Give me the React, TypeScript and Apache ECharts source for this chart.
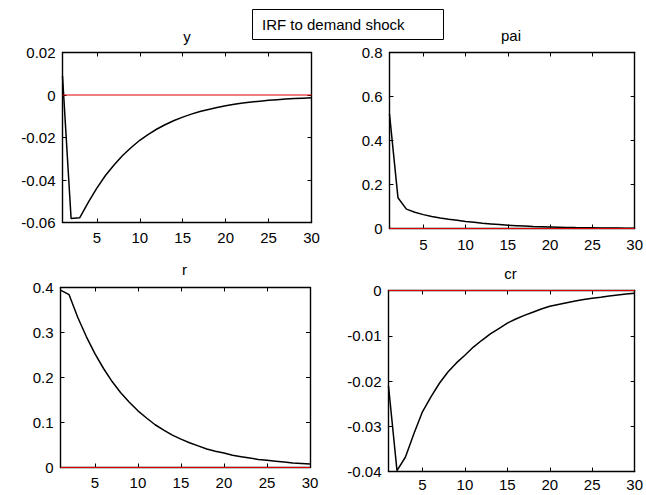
import React, { useEffect, useRef } from "react";
import * as echarts from "echarts";

const periods = [1, 2, 3, 4, 5, 6, 7, 8, 9, 10, 11, 12, 13, 14, 15, 16, 17, 18, 19, 20, 21, 22, 23, 24, 25, 26, 27, 28, 29, 30];

const yIrf = [0.009, -0.0581, -0.0578, -0.0505, -0.0438, -0.0379, -0.0329, -0.0285, -0.0247, -0.0213, -0.0185, -0.016, -0.0139, -0.012, -0.0104, -0.009, -0.0078, -0.0068, -0.0059, -0.0051, -0.0044, -0.0038, -0.0033, -0.0029, -0.0025, -0.0022, -0.0019, -0.0017, -0.0015, -0.0013];
const paiIrf = [0.52, 0.14, 0.088, 0.074, 0.063, 0.055, 0.048, 0.042, 0.037, 0.032, 0.028, 0.024, 0.021, 0.018, 0.015, 0.013, 0.011, 0.009, 0.008, 0.007, 0.006, 0.005, 0.004, 0.0035, 0.003, 0.0025, 0.002, 0.0018, 0.0015, 0.0013];
const rIrf = [0.394, 0.384, 0.334, 0.291, 0.253, 0.22, 0.191, 0.166, 0.145, 0.126, 0.11, 0.095, 0.083, 0.072, 0.063, 0.055, 0.048, 0.041, 0.036, 0.032, 0.027, 0.024, 0.021, 0.018, 0.016, 0.014, 0.012, 0.01, 0.009, 0.0078];
const crIrf = [-0.0211, -0.0398, -0.0368, -0.0316, -0.0268, -0.0235, -0.0205, -0.018, -0.016, -0.0143, -0.0125, -0.011, -0.0096, -0.0084, -0.0072, -0.0063, -0.0055, -0.0048, -0.0041, -0.0035, -0.0031, -0.0027, -0.0023, -0.002, -0.0017, -0.0015, -0.0012, -0.001, -0.0008, -0.0006];
const zeroLine = [0, 0];
const zeroLineX = [1, 30];

const xTicks = [5, 10, 15, 20, 25, 30];
const panelTitles = ["y", "pai", "r", "cr"];
const mainTitle = "IRF to demand shock";
const seriesValues = [yIrf, paiIrf, rIrf, crIrf];
const yMins = [-0.06, 0, 0, -0.04];
const yMaxs = [0.02, 0.8, 0.4, 0];
const yIntervals = [0.02, 0.2, 0.1, 0.01];

const FONT = "'Liberation Sans', Arial, Helvetica, sans-serif";

const panels = [
  { left: 62.5, top: 52.5, width: 249, height: 170, xMargin: 7, titleX: 187, titleY: 36 },
  { left: 389.5, top: 52.5, width: 248, height: 176, xMargin: 8, titleX: 511, titleY: 35 },
  { left: 60.5, top: 287.5, width: 249.5, height: 180, xMargin: 7, titleX: 184.5, titleY: 269 },
  { left: 388.5, top: 290.5, width: 249, height: 181, xMargin: 5, titleX: 510.5, titleY: 273 },
];

export default function App() {
  const ref = useRef<HTMLDivElement>(null);

  useEffect(() => {
    if (!ref.current) return;
    const chart = echarts.init(ref.current, undefined, { renderer: "svg" });

    const mkAxisLine = () => ({ show: true, onZero: false, lineStyle: { color: "#000", width: 1.4 } });
    const tickStyle = { color: "#000", width: 1 };
    const labelStyle = { color: "#000", fontSize: 15, fontFamily: FONT };

    const grid: any[] = [];
    const xAxis: any[] = [];
    const yAxis: any[] = [];
    const series: any[] = [];
    const graphic: any[] = [];

    panels.forEach((p, i) => {
      grid.push({ left: p.left, top: p.top, width: p.width, height: p.height, containLabel: false });
      xAxis.push({
        type: "value", gridIndex: i, position: "bottom", min: 1, max: 30, z: 0,
        axisLine: mkAxisLine(), splitLine: { show: false },
        axisTick: { show: true, inside: true, length: 4, customValues: xTicks, lineStyle: tickStyle },
        axisLabel: { show: true, customValues: xTicks, margin: p.xMargin, ...labelStyle },
      });
      xAxis.push({
        type: "value", gridIndex: i, position: "top", min: 1, max: 30, z: 0,
        axisLine: mkAxisLine(), splitLine: { show: false },
        axisTick: { show: true, inside: true, length: 4, customValues: xTicks, lineStyle: tickStyle },
        axisLabel: { show: false },
      });
      yAxis.push({
        type: "value", gridIndex: i, position: "left", z: 0,
        min: yMins[i], max: yMaxs[i], interval: yIntervals[i],
        axisLine: mkAxisLine(), splitLine: { show: false },
        axisTick: { show: true, inside: true, length: 4, lineStyle: tickStyle },
        axisLabel: { show: true, margin: 7, ...labelStyle },
      });
      yAxis.push({
        type: "value", gridIndex: i, position: "right", z: 0,
        min: yMins[i], max: yMaxs[i], interval: yIntervals[i],
        axisLine: mkAxisLine(), splitLine: { show: false },
        axisTick: { show: true, inside: true, length: 4, lineStyle: tickStyle },
        axisLabel: { show: false },
      });
      series.push({
        type: "line",
        xAxisIndex: 2 * i,
        yAxisIndex: 2 * i,
        data: periods.map((t, k) => [t, seriesValues[i][k]]),
        symbol: "none",
        lineStyle: { color: "#000", width: 1.5 },
        clip: true,
        z: 3,
      });
      series.push({
        type: "line",
        xAxisIndex: 2 * i,
        yAxisIndex: 2 * i,
        data: zeroLineX.map((t, k) => [t, zeroLine[k]]),
        symbol: "none",
        silent: true,
        lineStyle: { color: "#e00000", width: 1.2 },
        clip: false,
        z: 10,
      });
      graphic.push({
        type: "text",
        x: p.titleX,
        y: p.titleY,
        style: {
          text: panelTitles[i],
          fill: "#000",
          font: `15px ${FONT}`,
          textAlign: "center",
          textVerticalAlign: "middle",
        },
      });
    });

    graphic.push({
      type: "rect",
      shape: { x: 252.5, y: 9.5, width: 191, height: 30 },
      style: { fill: "#fff", stroke: "#000", lineWidth: 1 },
    });
    graphic.push({
      type: "text",
      x: 262,
      y: 24.5,
      style: {
        text: mainTitle,
        fill: "#000",
        font: `15px ${FONT}`,
        textAlign: "left",
        textVerticalAlign: "middle",
      },
    });

    chart.setOption({
      animation: false,
      backgroundColor: "#fff",
      grid,
      xAxis,
      yAxis,
      series,
      graphic,
    });

    return () => chart.dispose();
  }, []);

  return (
    <div
      ref={ref}
      style={{ position: "absolute", left: 0, top: 0, width: 646, height: 495, background: "#fff" }}
    />
  );
}
